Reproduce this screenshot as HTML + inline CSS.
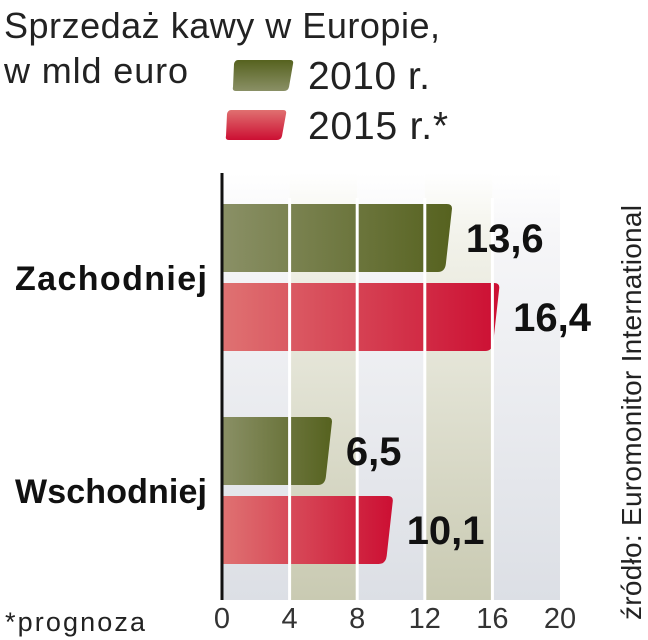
<!DOCTYPE html>
<html><head><meta charset="utf-8"><style>
html,body{margin:0;padding:0;background:#fff;}
svg{display:block;font-family:"Liberation Sans",sans-serif;}
</style></head><body>
<svg width="648" height="640" viewBox="0 0 648 640" xmlns="http://www.w3.org/2000/svg">
<defs>
<linearGradient id="bgGray" x1="0" y1="0" x2="0" y2="1"><stop offset="0" stop-color="#ffffff"/><stop offset="0.15" stop-color="#f6f6f8"/><stop offset="1" stop-color="#dcdfe5"/></linearGradient>
<linearGradient id="bgOlive" x1="0" y1="0" x2="0" y2="1"><stop offset="0" stop-color="#ffffff"/><stop offset="0.15" stop-color="#f2f2ea"/><stop offset="1" stop-color="#c9cab2"/></linearGradient>
<linearGradient id="gOlive" x1="0" y1="0" x2="1" y2="0"><stop offset="0" stop-color="#8a9066"/><stop offset="1" stop-color="#56621f"/></linearGradient>
<linearGradient id="gRed" x1="0" y1="0" x2="1" y2="0"><stop offset="0" stop-color="#df7272"/><stop offset="1" stop-color="#cc0f33"/></linearGradient>
<linearGradient id="lOlive" x1="0" y1="0" x2="0" y2="1"><stop offset="0" stop-color="#56621f"/><stop offset="1" stop-color="#8a9066"/></linearGradient>
<linearGradient id="lRed" x1="0" y1="0" x2="0" y2="1"><stop offset="0" stop-color="#e07070"/><stop offset="1" stop-color="#cc0f33"/></linearGradient>
</defs>
<text x="4" y="38" font-size="36" fill="#222" textLength="436">Sprzedaż kawy w Europie,</text>
<text x="4" y="83" font-size="36" fill="#222" textLength="184">w mld euro</text>
<path d="M238 60 H290 Q294 60 293 64 L289 87 Q288 91 284 91 H236 Q232 91 233 87 L234 64 Q235 60 238 60Z" fill="url(#lOlive)"/>
<text x="308" y="89" font-size="39" fill="#222" textLength="122">2010 r.</text>
<path d="M231 110 H283 Q287 110 286 114 L282 136 Q281 140 277 140 H229 Q225 140 226 136 L227 114 Q228 110 231 110Z" fill="url(#lRed)"/>
<text x="308" y="139" font-size="39" fill="#222" textLength="140">2015 r.*</text>
<g id="plot"></g>
<text x="5" y="631" font-size="27" fill="#222" textLength="140">*prognoza</text>
<text transform="translate(641,620) rotate(-90)" font-size="28" fill="#222" textLength="415">źródło: Euromonitor International</text>
</svg>
<script>
const categories = ["Zachodniej", "Wschodniej"];
const values2010 = [13.6, 6.5];
const values2015 = [16.4, 10.1];
const labels2010 = ["13,6", "6,5"];
const labels2015 = ["16,4", "10,1"];
const ticks = [0, 4, 8, 12, 16, 20];

const NS = "http://www.w3.org/2000/svg";
const g = document.getElementById("plot");
const X0 = 222, X1 = 560, YT = 173, YB = 600;
const xs = v => X0 + (v - ticks[0]) / (ticks[ticks.length-1] - ticks[0]) * (X1 - X0);
function mk(tag, attrs){const e=document.createElementNS(NS,tag);for(const k in attrs)e.setAttribute(k,attrs[k]);g.appendChild(e);return e;}

for (let i = 0; i < ticks.length - 1; i++) {
  const r = mk("rect",{x:xs(ticks[i]),y:YT,width:xs(ticks[i+1])-xs(ticks[i]),height:YB-YT,fill:(i%2?"url(#bgOlive)":"url(#bgGray)")});
  
  
}
const groupTop = [204, 417];
const bh = 68, gap = 79;
function bar(v, y, fill, name){
  const x1 = xs(v), x0 = X0;
  const d = `M${x0} ${y} H${x1-5} Q${x1+1} ${y} ${x1} ${y+6} L${x1-6} ${y+bh-8} Q${x1-7} ${y+bh} ${x1-14} ${y+bh} H${x0} Z`;
  const p = mk("path",{d:d,fill:fill});
  
  
  return x1;
}
const ends = [];
categories.forEach((c, i) => {
  const y1 = groupTop[i], y2 = groupTop[i] + gap;
  ends.push([bar(values2010[i], y1, "url(#gOlive)", "bar-2010-" + c.toLowerCase()),
             bar(values2015[i], y2, "url(#gRed)", "bar-2015-" + c.toLowerCase())]);
});
ticks.forEach((t, i) => {
  if (i > 0 && i < ticks.length - 1) {
    const l = mk("line",{x1:xs(t),x2:xs(t),y1:YT+25,y2:YB,stroke:"#fff","stroke-width":3});
    
    
  }
  const tx = mk("text",{x:xs(t),y:628,"font-size":29,"text-anchor":"middle",fill:"#333"});
  tx.textContent = t;
  
  
});
categories.forEach((c, i) => {
  const y1 = groupTop[i], y2 = groupTop[i] + gap;
  const [e1, e2] = ends[i];
  const t1 = mk("text",{x:e1+14,y:y1+bh/2+14,"font-size":40,"font-weight":"bold",fill:"#111"});
  t1.textContent = labels2010[i];
  
  
  const t2 = mk("text",{x:e2+14,y:y2+bh/2+14,"font-size":40,"font-weight":"bold",fill:"#111"});
  t2.textContent = labels2015[i];
  
  
  const ct = mk("text",{x:207,y:y1+bh+18,"font-size":34,"text-anchor":"end",fill:"#111","font-weight":"bold",textLength:192});
  ct.textContent = c;
  
  
});
const ax = mk("line",{x1:X0,x2:X0,y1:YT,y2:YB,stroke:"#111","stroke-width":3});


</script>
</body></html>
